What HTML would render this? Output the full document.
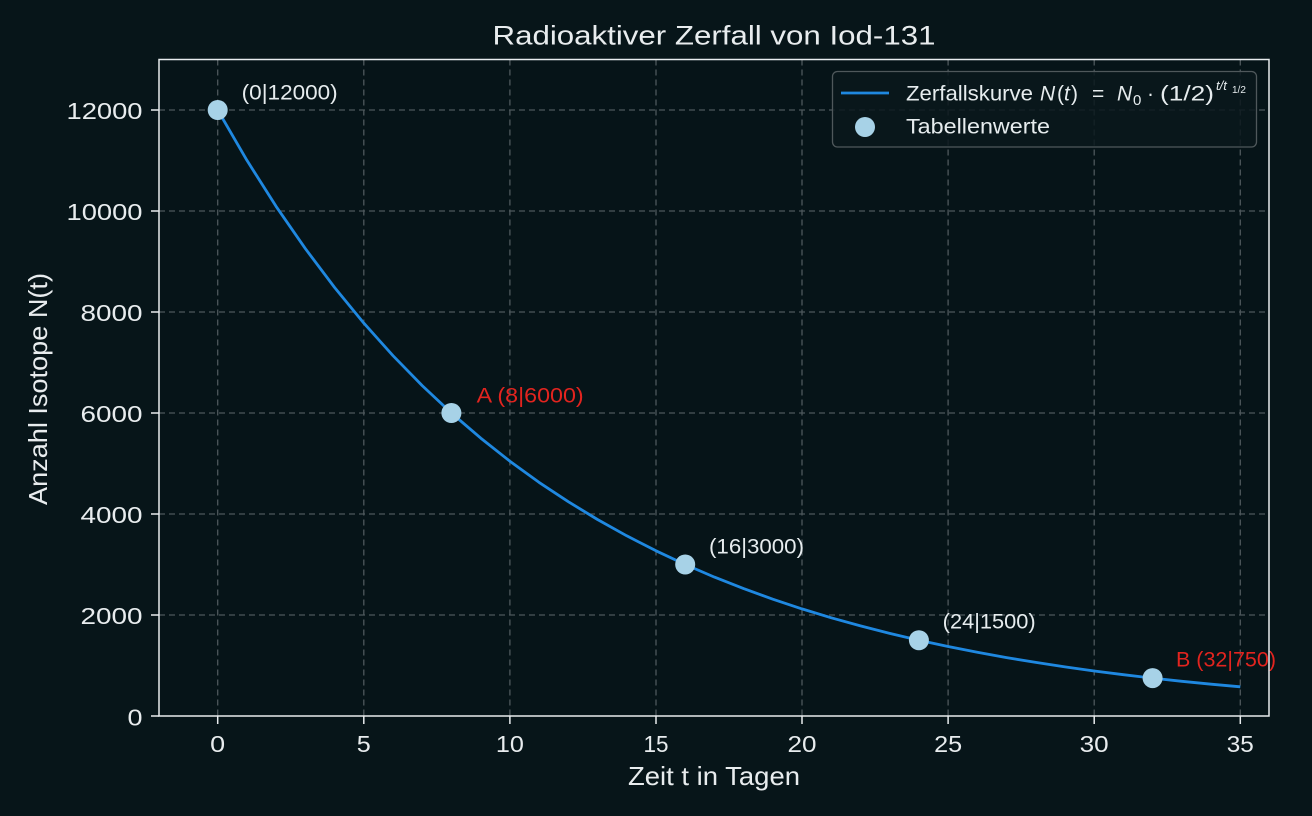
<!DOCTYPE html>
<html>
<head>
<meta charset="utf-8">
<style>
html,body{margin:0;padding:0;background:#071519;}
svg{display:block;}
text{font-family:"Liberation Sans",sans-serif;}
</style>
</head>
<body>
<svg width="1312" height="816" viewBox="0 0 1312 816" xmlns="http://www.w3.org/2000/svg">
<rect x="0" y="0" width="1312" height="816" fill="#071519"/>
<rect x="159" y="59.5" width="1110" height="656.5" fill="#061418"/>

<!-- grid -->
<g stroke="#4e585c" stroke-width="1.3" stroke-dasharray="6,4" fill="none">
<line x1="217.7" y1="59.5" x2="217.7" y2="716"/>
<line x1="363.8" y1="59.5" x2="363.8" y2="716"/>
<line x1="509.9" y1="59.5" x2="509.9" y2="716"/>
<line x1="656.0" y1="59.5" x2="656.0" y2="716"/>
<line x1="802.0" y1="59.5" x2="802.0" y2="716"/>
<line x1="948.1" y1="59.5" x2="948.1" y2="716"/>
<line x1="1094.2" y1="59.5" x2="1094.2" y2="716"/>
<line x1="1240.3" y1="59.5" x2="1240.3" y2="716"/>
<line x1="159" y1="615" x2="1269" y2="615"/>
<line x1="159" y1="514" x2="1269" y2="514"/>
<line x1="159" y1="413" x2="1269" y2="413"/>
<line x1="159" y1="312" x2="1269" y2="312"/>
<line x1="159" y1="211" x2="1269" y2="211"/>
<line x1="159" y1="110" x2="1269" y2="110"/>
</g>

<!-- curve -->
<polyline fill="none" stroke="#1f88e0" stroke-width="2.8" stroke-linejoin="round"
points="217.7,110 246.9,160.3 276.1,206.4 305.4,248.7 334.6,287.5 363.8,323.1 393.0,355.7 422.2,385.6 451.4,413 480.7,438.1 509.9,461.2 539.1,482.4 568.3,501.7 597.5,519.5 626.7,535.8 656.0,550.8 685.2,564.5 714.4,577.1 743.6,588.6 772.8,599.2 802.0,608.9 831.3,617.8 860.5,625.9 889.7,633.4 918.9,640.25 948.1,646.5 977.3,652.3 1006.6,657.6 1035.8,662.4 1065.0,666.9 1094.2,671.0 1123.4,674.7 1152.6,678.1 1181.9,681.3 1211.1,684.2 1240.3,686.8"/>

<!-- points -->
<g fill="#a7d2e7">
<circle cx="217.7" cy="110" r="10"/>
<circle cx="451.4" cy="413" r="10"/>
<circle cx="685.2" cy="564.5" r="10"/>
<circle cx="918.9" cy="640.25" r="10"/>
<circle cx="1152.6" cy="678.1" r="10"/>
</g>

<!-- annotations -->
<g font-size="21">
<text x="241.7" y="99.3" fill="#e6ecee" textLength="96" lengthAdjust="spacingAndGlyphs">(0|12000)</text>
<text x="476.7" y="402.3" fill="#e2241f" textLength="107" lengthAdjust="spacingAndGlyphs">A (8|6000)</text>
<text x="709" y="553.3" fill="#e6ecee" textLength="95" lengthAdjust="spacingAndGlyphs">(16|3000)</text>
<text x="942.7" y="628.3" fill="#e6ecee" textLength="93" lengthAdjust="spacingAndGlyphs">(24|1500)</text>
<text x="1176" y="666.7" fill="#e2241f" textLength="100" lengthAdjust="spacingAndGlyphs">B (32|750)</text>
</g>

<!-- legend -->
<rect x="832.5" y="71.5" width="424" height="75.5" rx="5" ry="5" fill="#0a181c" fill-opacity="0.85" stroke="#4f585b" stroke-width="1.3"/>
<line x1="841" y1="93" x2="889" y2="93" stroke="#1f88e0" stroke-width="2.8"/>
<circle cx="865" cy="127" r="10" fill="#a7d2e7"/>
<g fill="#e6ecee" font-size="21">
<text x="906" y="100.7" textLength="127" lengthAdjust="spacingAndGlyphs">Zerfallskurve</text>
<text x="1040" y="100.7" font-style="italic">N</text>
<text x="1057" y="100.7">(</text>
<text x="1064" y="100.7" font-style="italic">t</text>
<text x="1071" y="100.7">)</text>
<text x="1092" y="100.7">=</text>
<text x="1117" y="100.7" font-style="italic">N</text>
<text x="1133" y="105" font-size="15">0</text>
<text x="1147" y="100.7">·</text>
<text x="1160" y="100.7" textLength="54" lengthAdjust="spacingAndGlyphs">(1/2)</text>
<text x="1216" y="90" font-size="13" font-style="italic">t/t</text>
<text x="1232" y="93" font-size="10">1/2</text>
<text x="906" y="133.3" textLength="144" lengthAdjust="spacingAndGlyphs">Tabellenwerte</text>
</g>

<!-- spines -->
<rect x="159" y="59.5" width="1110" height="656.5" fill="none" stroke="#e8ecee" stroke-width="1.5"/>

<!-- ticks -->
<g stroke="#e8ecee" stroke-width="1.5">
<line x1="217.7" y1="716" x2="217.7" y2="724"/>
<line x1="363.8" y1="716" x2="363.8" y2="724"/>
<line x1="509.9" y1="716" x2="509.9" y2="724"/>
<line x1="656.0" y1="716" x2="656.0" y2="724"/>
<line x1="802.0" y1="716" x2="802.0" y2="724"/>
<line x1="948.1" y1="716" x2="948.1" y2="724"/>
<line x1="1094.2" y1="716" x2="1094.2" y2="724"/>
<line x1="1240.3" y1="716" x2="1240.3" y2="724"/>
<line x1="151" y1="716" x2="159" y2="716"/>
<line x1="151" y1="615" x2="159" y2="615"/>
<line x1="151" y1="514" x2="159" y2="514"/>
<line x1="151" y1="413" x2="159" y2="413"/>
<line x1="151" y1="312" x2="159" y2="312"/>
<line x1="151" y1="211" x2="159" y2="211"/>
<line x1="151" y1="110" x2="159" y2="110"/>
</g>

<!-- x tick labels -->
<g fill="#e8ecee" font-size="23.5" text-anchor="middle">
<text x="217.7" y="752" textLength="15" lengthAdjust="spacingAndGlyphs">0</text>
<text x="363.8" y="752" textLength="14" lengthAdjust="spacingAndGlyphs">5</text>
<text x="509.9" y="752" textLength="28" lengthAdjust="spacingAndGlyphs">10</text>
<text x="656.0" y="752" textLength="25" lengthAdjust="spacingAndGlyphs">15</text>
<text x="802.0" y="752" textLength="29" lengthAdjust="spacingAndGlyphs">20</text>
<text x="948.1" y="752" textLength="28" lengthAdjust="spacingAndGlyphs">25</text>
<text x="1094.2" y="752" textLength="29" lengthAdjust="spacingAndGlyphs">30</text>
<text x="1240.3" y="752" textLength="27" lengthAdjust="spacingAndGlyphs">35</text>
</g>

<!-- y tick labels -->
<g fill="#e8ecee" font-size="23.5" text-anchor="end">
<text x="142.5" y="725.5" textLength="15" lengthAdjust="spacingAndGlyphs">0</text>
<text x="142.5" y="624" textLength="62" lengthAdjust="spacingAndGlyphs">2000</text>
<text x="142.5" y="523" textLength="62" lengthAdjust="spacingAndGlyphs">4000</text>
<text x="142.5" y="422" textLength="62" lengthAdjust="spacingAndGlyphs">6000</text>
<text x="142.5" y="321" textLength="62" lengthAdjust="spacingAndGlyphs">8000</text>
<text x="142.5" y="220" textLength="76" lengthAdjust="spacingAndGlyphs">10000</text>
<text x="142.5" y="119" textLength="76" lengthAdjust="spacingAndGlyphs">12000</text>
</g>

<!-- axis labels -->
<text x="714" y="785" fill="#e8ecee" font-size="26" text-anchor="middle" textLength="172" lengthAdjust="spacingAndGlyphs">Zeit t in Tagen</text>
<text transform="translate(47,389) rotate(-90)" x="0" y="0" fill="#e8ecee" font-size="26" text-anchor="middle" textLength="232" lengthAdjust="spacingAndGlyphs">Anzahl Isotope N(t)</text>

<!-- title -->
<text x="714" y="44.3" fill="#e8ecee" font-size="27" text-anchor="middle" textLength="443" lengthAdjust="spacingAndGlyphs">Radioaktiver Zerfall von Iod-131</text>
</svg>
</body>
</html>
